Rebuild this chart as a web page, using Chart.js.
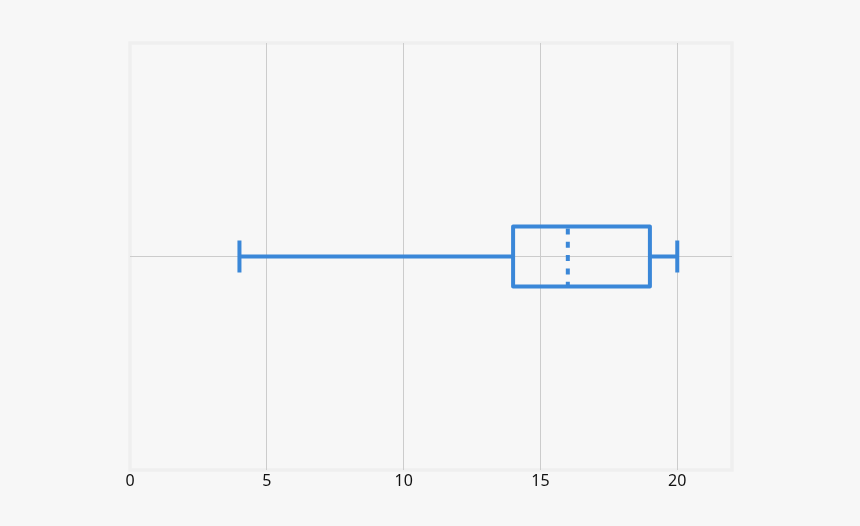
<!DOCTYPE html>
<html>
<head>
<meta charset="utf-8">
<script src="https://cdn.jsdelivr.net/npm/chart.js@4.4.1/dist/chart.umd.min.js"></script>
<style>
  html, body { margin: 0; padding: 0; background: #f7f7f7; }
  #wrap { width: 860px; height: 526px; }
</style>
</head>
<body>
<div id="wrap"><canvas id="box-chart"></canvas></div>
<script>
// five-number summary
const categories = ['A'];
const whiskerMin = [4];
const q1 = [14];
const median = [16];
const q3 = [19];
const whiskerMax = [20];
const xTicks = [0, 5, 10, 15, 20];

const blue = '#3a87d8';

// light frame round the plot area
const framePlugin = {
    id: 'frame',
    beforeDraw(chart) {
        const {ctx, chartArea: a} = chart;
        ctx.save();
        ctx.strokeStyle = '#efefef';
        ctx.lineWidth = 3.5;
        ctx.strokeRect(a.left, a.top, a.right - a.left, a.bottom - a.top);
        ctx.restore();
    }
};

// box outline, whiskers, caps and dashed median, placed with the chart's scales
const boxPlugin = {
    id: 'boxes',
    afterDatasetsDraw(chart) {
        const {ctx, scales: {x, y}} = chart;
        const bar = chart.getDatasetMeta(0).data;
        ctx.save();
        ctx.strokeStyle = blue;
        ctx.lineWidth = 4;
        ctx.lineJoin = 'round';
        categories.forEach((c, i) => {
            const cy = y.getPixelForValue(i);
            const half = bar[i].height / 2;
            const cap = 16;
            const xMin = x.getPixelForValue(whiskerMin[i]);
            const xQ1 = x.getPixelForValue(q1[i]);
            const xQ3 = x.getPixelForValue(q3[i]);
            const xMax = x.getPixelForValue(whiskerMax[i]);
            const xMed = x.getPixelForValue(median[i]);
            ctx.strokeRect(xQ1, cy - half, xQ3 - xQ1, half * 2);
            ctx.beginPath();
            ctx.moveTo(xMin, cy); ctx.lineTo(xQ1, cy);
            ctx.moveTo(xQ3, cy); ctx.lineTo(xMax, cy);
            ctx.moveTo(xMin, cy - cap); ctx.lineTo(xMin, cy + cap);
            ctx.moveTo(xMax, cy - cap); ctx.lineTo(xMax, cy + cap);
            ctx.stroke();
            ctx.setLineDash([6, 7.3]);
            ctx.beginPath();
            ctx.moveTo(xMed, cy - half + 2); ctx.lineTo(xMed, cy + half + 2);
            ctx.stroke();
            ctx.setLineDash([]);
        });
        ctx.restore();
    }
};

new Chart(document.getElementById('box-chart'), {
    type: 'bar',
    data: {
        labels: categories,
        datasets: [{
            data: categories.map((c, i) => [q1[i], q3[i]]),
            backgroundColor: 'rgba(0,0,0,0)',
            borderWidth: 0,
            barThickness: 60
        }]
    },
    options: {
        indexAxis: 'y',
        responsive: true,
        maintainAspectRatio: false,
        animation: false,
        layout: { padding: { left: 130, right: 128, top: 43 } },
        plugins: { legend: { display: false }, tooltip: { enabled: false } },
        scales: {
            x: {
                type: 'linear',
                min: 0,
                max: 22,
                afterBuildTicks: s => { s.ticks = xTicks.map(v => ({value: v})); },
                afterFit: s => { s.height = 56; },
                grid: {
                    color: c => (c.tick && c.tick.value === 0) ? 'rgba(0,0,0,0)' : '#cccccc',
                    lineWidth: 1,
                    drawTicks: false
                },
                border: { display: false },
                ticks: {
                    padding: 2,
                    color: '#111111',
                    font: { family: 'Noto Sans', size: 16 }
                }
            },
            y: {
                afterFit: s => { s.width = 0; },
                grid: { color: '#cccccc', lineWidth: 1, offset: false, drawTicks: false },
                border: { display: false },
                ticks: { display: false }
            }
        }
    },
    plugins: [framePlugin, boxPlugin]
});
</script>
</body>
</html>
